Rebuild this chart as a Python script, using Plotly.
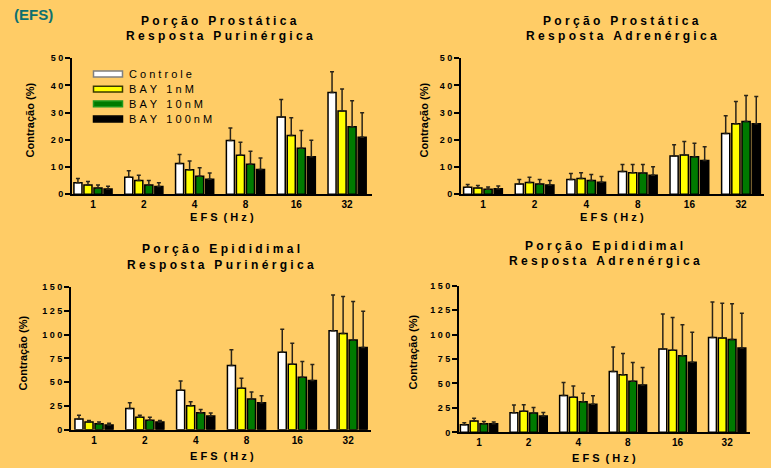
import plotly.graph_objects as go

W, H = 771, 468

freqs = ["1", "2", "4", "8", "16", "32"]
series_names = ["Controle", "BAY 1nM", "BAY 10nM", "BAY 100nM"]
series_colors = ["#FFFFFF", "#FFFF00", "#007A00", "#000000"]

# Porção Prostática - Resposta Purinérgica (mean, upper error end)
pp_ctrl = [4.2, 6.2, 11.3, 19.7, 28.4, 37.4]
pp_ctrl_top = [5.8, 8.6, 14.6, 24.3, 34.8, 45.0]
pp_b1 = [3.4, 5.0, 9.0, 14.3, 21.6, 30.6]
pp_b1_top = [4.7, 7.0, 12.2, 19.1, 28.1, 38.7]
pp_b10 = [2.3, 3.4, 6.6, 11.0, 16.9, 24.8]
pp_b10_top = [3.4, 5.0, 9.7, 15.8, 23.4, 34.3]
pp_b100 = [1.9, 2.8, 5.5, 9.1, 13.8, 20.9]
pp_b100_top = [2.9, 4.2, 7.8, 13.3, 19.8, 29.9]

# Porção Prostática - Resposta Adrenérgica
pa_ctrl = [2.5, 3.7, 5.4, 8.3, 14.0, 22.3]
pa_ctrl_top = [3.6, 5.4, 7.6, 10.9, 18.2, 28.8]
pa_b1 = [2.3, 4.3, 5.8, 7.9, 14.4, 25.9]
pa_b1_top = [3.2, 6.2, 7.9, 10.9, 19.4, 34.1]
pa_b10 = [1.8, 3.7, 5.0, 7.8, 13.8, 26.7]
pa_b10_top = [2.6, 5.4, 7.2, 10.9, 18.7, 36.3]
pa_b100 = [2.0, 3.4, 4.4, 7.0, 12.4, 25.9]
pa_b100_top = [3.0, 5.0, 6.5, 10.1, 17.4, 35.9]

# Porção Epididimal - Resposta Purinérgica
ep_ctrl = [11.3, 22.3, 41.5, 67.6, 81.4, 104.0]
ep_ctrl_top = [15.1, 28.5, 51.2, 84.1, 105.7, 141.8]
ep_b1 = [8.2, 13.0, 25.1, 43.6, 69.0, 101.3]
ep_b1_top = [9.6, 15.1, 29.5, 54.2, 91.0, 140.1]
ep_b10 = [6.2, 10.0, 17.9, 32.3, 55.3, 94.4]
ep_b10_top = [8.2, 13.0, 21.3, 39.8, 71.7, 135.0]
ep_b100 = [5.1, 8.2, 14.4, 28.5, 51.8, 86.5]
ep_b100_top = [6.9, 9.6, 17.5, 35.7, 68.7, 124.6]

# Porção Epididimal - Resposta Adrenérgica
ea_ctrl = [7.7, 20.0, 37.7, 62.3, 85.3, 97.0]
ea_ctrl_top = [9.7, 28.0, 51.0, 87.3, 121.0, 133.3]
ea_b1 = [11.7, 21.7, 36.0, 59.0, 84.0, 96.3]
ea_b1_top = [14.3, 28.3, 47.3, 80.7, 117.3, 132.0]
ea_b10 = [8.7, 19.7, 31.3, 52.3, 78.3, 95.0]
ea_b10_top = [11.0, 25.3, 40.0, 71.3, 110.0, 131.3]
ea_b100 = [8.7, 16.7, 28.7, 48.3, 71.7, 86.3]
ea_b100_top = [10.7, 20.3, 37.3, 66.3, 102.3, 121.7]

yticks_50 = [0, 10, 20, 30, 40, 50]
yticks_150 = [0, 25, 50, 75, 100, 125, 150]

FONT = "Liberation Sans, Arial, sans-serif"
BG = "#FFCC66"
NB = "\u00a0"


def spaced(s, word_gap=3):
    words = s.split(" ")
    return (NB * word_gap).join(NB.join(list(w)) for w in words)


def xp(px):
    return px / W


def yp(py):
    return 1 - py / H


panels = [
    dict(
        t1="Porção Prostática", t2="Resposta Purinérgica",
        data=[(pp_ctrl, pp_ctrl_top), (pp_b1, pp_b1_top), (pp_b10, pp_b10_top), (pp_b100, pp_b100_top)],
        xd=(72, 372), yd=(193.3, 54.3), yr=50, yt=yticks_50, xr=(-0.413, 5.49),
        tx=219, ty=(16, 32), ytx=30, yty=118, xtx=222, xty=217,
    ),
    dict(
        t1="Porção Prostática", t2="Resposta Adrenérgica",
        data=[(pa_ctrl, pa_ctrl_top), (pa_b1, pa_b1_top), (pa_b10, pa_b10_top), (pa_b100, pa_b100_top)],
        xd=(461, 764), yd=(193.3, 54.3), yr=50, yt=yticks_50, xr=(-0.426, 5.446),
        tx=621, ty=(16, 32), ytx=424, yty=118, xtx=612, xty=217,
    ),
    dict(
        t1="Porção Epididimal", t2="Resposta Purinérgica",
        data=[(ep_ctrl, ep_ctrl_top), (ep_b1, ep_b1_top), (ep_b10, ep_b10_top), (ep_b100, ep_b100_top)],
        xd=(71, 371), yd=(434, 288.3), yr=150, yt=yticks_150, xr=(-0.453, 5.45),
        tx=221, ty=(249, 266), ytx=23, yty=356, xtx=222, xty=461,
    ),
    dict(
        t1="Porção Epididimal", t2="Resposta Adrenérgica",
        data=[(ea_ctrl, ea_ctrl_top), (ea_b1, ea_b1_top), (ea_b10, ea_b10_top), (ea_b100, ea_b100_top)],
        xd=(459, 750), yd=(436.7, 286.7), yr=150, yt=yticks_150, xr=(-0.403, 5.46),
        tx=604, ty=(246, 262), ytx=413, yty=355, xtx=604, xty=463,
    ),
]

fig = go.Figure()
annotations = []
shapes = []
xidx = list(range(len(freqs)))

for i, p in enumerate(panels):
    n = "" if i == 0 else str(i + 1)
    xa, ya = "x" + n, "y" + n
    for k, (vals, tops) in enumerate(p["data"]):
        fig.add_trace(go.Bar(
            x=xidx, y=vals, name=series_names[k], xaxis=xa, yaxis=ya,
            offsetgroup=str(k), showlegend=False,
            marker=dict(color=series_colors[k], line=dict(color="#000000", width=1.5)),
            error_y=dict(type="data", symmetric=False,
                         array=[t - v for v, t in zip(vals, tops)],
                         arrayminus=[0] * len(vals),
                         color="#2a2418", thickness=1.5, width=2),
        ))
    fig.layout["xaxis" + n] = dict(
        domain=[xp(p["xd"][0]), xp(p["xd"][1])], anchor=ya,
        range=list(p["xr"]), tickvals=xidx, ticktext=freqs,
        showline=True, linecolor="#000000", linewidth=2, ticks="",
        showgrid=False, zeroline=False, fixedrange=True,
        tickfont=dict(family=FONT, size=10, color="#000000", weight="bold"),
    )
    fig.layout["yaxis" + n] = dict(
        domain=[yp(p["yd"][0]), yp(p["yd"][1])], anchor=xa,
        range=[0, p["yr"]], tickvals=p["yt"],
        ticktext=[spaced(str(v)) for v in p["yt"]],
        showline=True, linecolor="#000000", linewidth=2,
        ticks="outside", ticklen=5, tickwidth=2, tickcolor="#000000",
        showgrid=False, zeroline=False, fixedrange=True,
        tickfont=dict(family=FONT, size=9, color="#000000", weight="bold"),
    )
    annotations += [
        dict(text="<b>" + spaced(p["t1"]) + "</b>", x=xp(p["tx"]), y=yp(p["ty"][0]),
             xref="paper", yref="paper", showarrow=False, xanchor="center", yanchor="middle",
             font=dict(family=FONT, size=12, color="#000000")),
        dict(text="<b>" + spaced(p["t2"]) + "</b>", x=xp(p["tx"]), y=yp(p["ty"][1]),
             xref="paper", yref="paper", showarrow=False, xanchor="center", yanchor="middle",
             font=dict(family=FONT, size=12, color="#000000")),
        dict(text="<b>Contração (%)</b>", x=xp(p["ytx"]), y=yp(p["yty"]), textangle=-90,
             xref="paper", yref="paper", showarrow=False, xanchor="center", yanchor="middle",
             font=dict(family=FONT, size=11, color="#000000")),
        dict(text="<b>" + spaced("EFS (Hz)", 2) + "</b>", x=xp(p["xtx"]), y=yp(p["xty"]),
             xref="paper", yref="paper", showarrow=False, xanchor="center", yanchor="middle",
             font=dict(family=FONT, size=11, color="#000000")),
    ]

# custom legend (top-left panel)
legend_rows = [70.5, 86, 101, 116.5]
legend_outline = ["#808080", "#3a3a00", "#1f9a1f", "#000000"]
for k, ry in enumerate(legend_rows):
    shapes.append(dict(type="rect", xref="paper", yref="paper",
                       x0=xp(93.5), x1=xp(122.5), y0=yp(ry + 3), y1=yp(ry - 3),
                       fillcolor=series_colors[k], line=dict(color=legend_outline[k], width=1.5)))
    annotations.append(dict(text=spaced(series_names[k]), x=xp(127), y=yp(ry),
                            xref="paper", yref="paper", showarrow=False,
                            xanchor="left", yanchor="middle",
                            font=dict(family=FONT, size=11, color="#000000")))

annotations.append(dict(text="<b>(EFS)</b>", x=xp(12), y=yp(10), xref="paper", yref="paper",
                        showarrow=False, xanchor="left", yanchor="middle",
                        font=dict(family=FONT, size=15, color="#0E7070")))

fig.update_layout(
    width=W, height=H, margin=dict(l=0, r=0, t=0, b=0),
    paper_bgcolor=BG, plot_bgcolor=BG,
    barmode="group", bargap=0.21, bargroupgap=0.2,
    annotations=annotations, shapes=shapes, showlegend=False,
)

fig.write_html(
    "out.html",
    config={"displayModeBar": False},
    post_script="document.body.style.margin='0';document.body.style.padding='0';"
                "document.body.style.overflow='hidden';",
)
